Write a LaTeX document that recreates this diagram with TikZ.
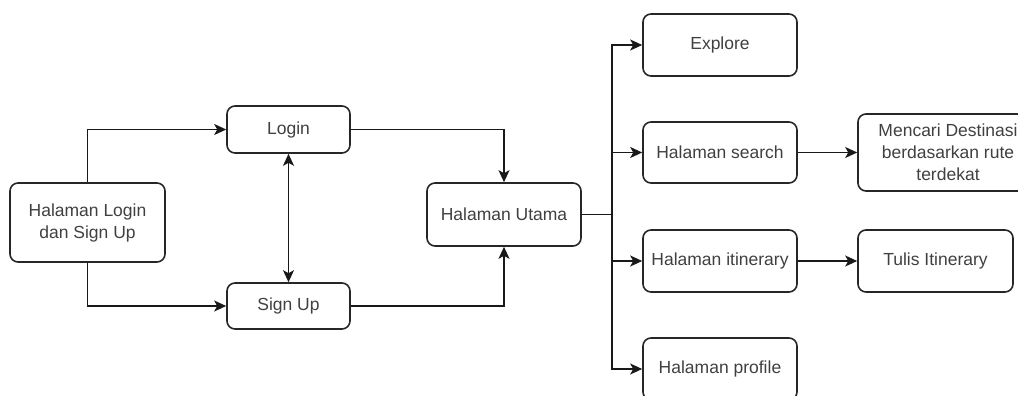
\documentclass[tikz,border=0pt]{standalone}
\usepackage{fontspec}
\setmainfont{Liberation Sans}
\usetikzlibrary{arrows.meta}
\begin{document}
\begin{tikzpicture}[x=1pt,y=-1pt,
  box/.style={draw=black!85, line width=1.6pt, rounded corners=8pt, rectangle,
    inner sep=0pt, align=center, text=black!75,
    font=\fontsize{17.5}{22}\selectfont},
  conn/.style={line width=1.6pt, draw=black!90},
  arr/.style={conn, -{Stealth[length=12pt,width=11pt,inset=3pt]}},
  darr/.style={conn, {Stealth[length=12pt,width=11pt,inset=3pt]}-{Stealth[length=12pt,width=11pt,inset=3pt]}}]
\useasboundingbox (0,0) rectangle (1018,396);
\clip (0,0) rectangle (1018,396);
\node[box, minimum width=155pt, minimum height=79pt] (hl) at (87.5,222.5) {Halaman Login\\dan Sign Up};
\node[box, minimum width=123pt, minimum height=47pt] (login) at (288.5,129.5) {Login};
\node[box, minimum width=123pt, minimum height=46pt] (signup) at (288.5,306) {Sign Up};
\node[box, minimum width=154pt, minimum height=63pt] (utama) at (504,214.5) {Halaman Utama};
\node[box, minimum width=154pt, minimum height=62pt] (explore) at (720,45) {Explore};
\node[box, minimum width=154pt, minimum height=61pt] (search) at (720,152.5) {Halaman search};
\node[box, minimum width=154pt, minimum height=62pt] (itin) at (720,261) {Halaman itinerary};
\node[box, minimum width=154pt, minimum height=62pt] (profile) at (720,369) {Halaman profile};
\node[box, minimum width=180pt, minimum height=77pt] (mencari) at (948,152.5) {Mencari Destinasi\\berdasarkan rute\\terdekat};
\node[box, minimum width=155pt, minimum height=62pt] (tulis) at (935.5,261) {Tulis Itinerary};
\coordinate (trunk) at (612,214.5);
\draw[arr] (hl.north) |- (login.west);
\draw[arr] (hl.south) |- (signup.west);
\draw[darr] (login.south) -- (signup.north);
\draw[arr] (login.east) -| (utama.north);
\draw[arr] (signup.east) -| (utama.south);
\draw[conn] (utama.east) -- (trunk);
\draw[arr] (trunk) |- (explore.west);
\draw[arr] (trunk) |- (search.west);
\draw[arr] (trunk) |- (itin.west);
\draw[arr] (trunk) |- (profile.west);
\draw[arr] (search.east) -- (mencari.west);
\draw[arr] (itin.east) -- (tulis.west);
\end{tikzpicture}
\end{document}
